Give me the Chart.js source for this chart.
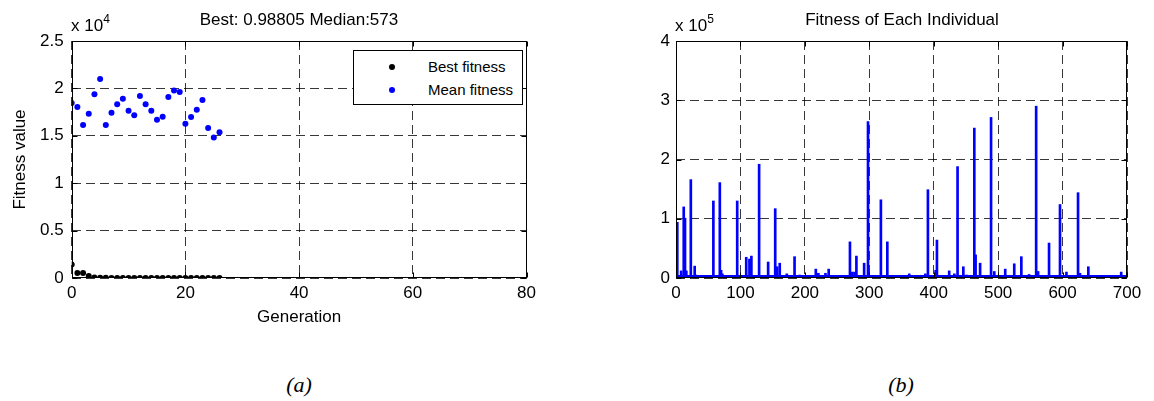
<!DOCTYPE html>
<html>
<head>
<meta charset="utf-8">
<script src="https://cdn.jsdelivr.net/npm/chart.js@4"></script>
<style>
  html, body { margin: 0; padding: 0; background: #fff; }
  body { width: 1154px; height: 401px; position: relative; overflow: hidden;
         font-family: "Liberation Sans", Arial, sans-serif; color: #000; }
  canvas { position: absolute; top: 0; }
  .txt { position: absolute; white-space: nowrap; font-size: 17px; line-height: 20px; }
  .ttl { text-align: center; }
  .expo sup { font-size: 12px; position: relative; top: -3px; vertical-align: top; line-height: 12px; }
  .legend { position: absolute; border: 1px solid #000; background: #fff; box-sizing: border-box; }
  .legend .item { position: absolute; left: 0; font-size: 15px; line-height: 18px; white-space: nowrap; }
  .legend .dot { position: absolute; width: 6px; height: 6px; border-radius: 50%; }
  .legend .lab { position: absolute; }
  .cap { position: absolute; font-family: "Liberation Serif", "DejaVu Serif", serif; font-style: italic;
         font-size: 22px; line-height: 24px; text-align: center; }
</style>
</head>
<body>
<canvas id="evo" width="570" height="330" style="left:0"></canvas>
<canvas id="ind" width="554" height="330" style="left:600px"></canvas>

<div class="txt ttl" style="left:99px;width:400px;top:10px;">Best: 0.98805 Median:573</div>
<div class="txt expo" style="left:71px;top:16px;">x 10<sup>4</sup></div>
<div class="txt ttl" style="left:702px;width:400px;top:10px;">Fitness of Each Individual</div>
<div class="txt expo" style="left:675px;top:16px;">x 10<sup>5</sup></div>

<div class="legend" style="left:353px;top:50px;width:170px;height:55px;">
  <div class="item" style="top:7px;width:168px;">
    <span class="dot" style="left:35px;top:6px;background:#000;"></span>
    <span class="lab" style="left:74px;">Best fitness</span>
  </div>
  <div class="item" style="top:30px;width:168px;">
    <span class="dot" style="left:35px;top:6px;background:#0000ff;"></span>
    <span class="lab" style="left:74px;">Mean fitness</span>
  </div>
</div>

<div class="cap" style="left:249px;width:100px;top:373px;">(a)</div>
<div class="cap" style="left:851px;width:100px;top:373px;">(b)</div>

<script>
// ---- GA progress per generation ----
const generations = [0, 1, 2, 3, 4, 5, 6, 7, 8, 9, 10, 11, 12, 13, 14, 15, 16, 17, 18, 19, 20, 21, 22, 23, 24, 25, 26];
const bestFitness = [1430, 520, 520, 200, 40, 20, 15, 12, 10, 8, 6, 5, 4, 4, 3, 3, 2, 2, 2, 1.5, 1.5, 1.2, 1.2, 1, 1, 1, 0.98805];
const meanFitness = [18470, 18050, 16130, 17320, 19370, 20980, 16130, 17420, 18330, 18920, 17630, 17180, 19200,
                     18330, 17630, 16690, 17000, 19090, 19790, 19620, 16270, 16970, 17740, 18780, 15820, 14810, 15370];

// ---- fitness of each individual in the final population ----
const populationSize = 700;
const notableIndex = [2, 8, 12, 14, 16, 23, 29, 31, 36, 40, 44, 50, 53, 58, 68, 70, 72, 80, 95, 97, 99,
                      109, 114, 117, 129, 143, 154, 157, 161, 172, 184, 189, 192, 212, 217, 221, 232, 237,
                      270, 273, 277, 280, 292, 298, 318, 328, 344, 355, 362, 374, 387, 391, 398, 403, 405,
                      424, 432, 437, 446, 451, 463, 465, 472, 489, 494, 511, 525, 536, 548, 559, 562, 579,
                      596, 606, 624, 627, 640, 657, 691];
const notableFitness = [94000, 12000, 120000, 101000, 12000, 166000, 20000, 5000, 2000, 3000, 2000, 3000, 2000,
                        130000, 161000, 13000, 7000, 2000, 130000, 4000, 2000,
                        35000, 32000, 37000, 192000, 27000, 117000, 19000, 25000, 7000, 36000, 3000, 5000,
                        3000, 15000, 8000, 8000, 15000,
                        61000, 10000, 10000, 37000, 25000, 264000, 132000, 61000, 3000, 2000, 7000, 3000,
                        7000, 149000, 3000, 13000, 64000,
                        12000, 7000, 188000, 19000, 5000, 253000, 39000, 25000, 271000, 11000, 15000, 24000,
                        36000, 6000, 290000, 11000, 59000,
                        124000, 10000, 144000, 8000, 19000, 3000, 10000];

// ---- axis ticks ----
const genTicks = [0, 20, 40, 60, 80];
const fitTicks = [0, 5000, 10000, 15000, 20000, 25000];
const indTicks = [0, 100, 200, 300, 400, 500, 600, 700];
const indFitTicks = [0, 100000, 200000, 300000, 400000];

Chart.defaults.font.family = '"Liberation Sans", Arial, sans-serif';
Chart.defaults.font.size = 17;
Chart.defaults.color = '#000';
Chart.defaults.animation = false;

const GRID = 'rgba(0,0,0,0.78)';
const DASH = [9, 5];

// solid axes box plus inward tick marks on all four sides
const framePlugin = {
  id: 'frame',
  afterDraw(chart) {
    const { ctx, chartArea: a, scales } = chart;
    const L = Math.round(a.left) + 0.5, R = Math.round(a.right) - 0.5;
    const T = Math.round(a.top) + 0.5, B = Math.round(a.bottom) - 0.5;
    ctx.save();
    ctx.strokeStyle = '#000';
    ctx.lineWidth = 1;
    ctx.setLineDash([]);
    ctx.strokeRect(L, T, R - L, B - T);
    const len = 5;
    ctx.beginPath();
    scales.x.ticks.forEach(t => {
      const p = Math.round(scales.x.getPixelForValue(t.value)) + 0.5;
      ctx.moveTo(p, B); ctx.lineTo(p, B - len);
      ctx.moveTo(p, T); ctx.lineTo(p, T + len);
    });
    scales.y.ticks.forEach(t => {
      const p = Math.round(scales.y.getPixelForValue(t.value)) + 0.5;
      ctx.moveTo(L, p); ctx.lineTo(L + len, p);
      ctx.moveTo(R, p); ctx.lineTo(R - len, p);
    });
    ctx.stroke();
    ctx.restore();
  }
};

function tickList(values) {
  return (scale) => { scale.ticks = values.map(v => ({ value: v })); };
}

// ---- (a) GA progress ----
new Chart(document.getElementById('evo'), {
  type: 'scatter',
  data: {
    datasets: [
      { label: 'Best fitness', data: generations.map((g, i) => ({ x: g, y: bestFitness[i] })),
        backgroundColor: '#000', borderWidth: 0, pointRadius: 3 },
      { label: 'Mean fitness', data: generations.map((g, i) => ({ x: g, y: meanFitness[i] })),
        backgroundColor: '#0000ff', borderWidth: 0, pointRadius: 3 }
    ]
  },
  options: {
    responsive: false,
    layout: { padding: { left: 10, top: 41, right: 43.5, bottom: 2 } },
    plugins: { legend: { display: false }, tooltip: { enabled: false } },
    scales: {
      x: {
        type: 'linear', min: 0, max: 80,
        afterBuildTicks: tickList(genTicks),
        afterFit: (s) => { s.height = 50; },
        grid: { color: GRID, lineWidth: 1, drawTicks: false },
        border: { display: false, dash: DASH },
        ticks: { padding: 5, maxRotation: 0, autoSkip: false },
        title: { display: true, text: 'Generation', padding: 0, font: { size: 17 } }
      },
      y: {
        type: 'linear', min: 0, max: 25000,
        afterBuildTicks: tickList(fitTicks),
        afterFit: (s) => { s.width = 61.7; },
        grid: { color: GRID, lineWidth: 1, drawTicks: false },
        border: { display: false, dash: DASH },
        ticks: { padding: 8, autoSkip: false, callback: (v) => String(v / 10000) },
        title: { display: true, text: 'Fitness value', padding: 0, font: { size: 17 } }
      }
    }
  },
  plugins: [framePlugin]
});

// ---- (b) fitness of each individual ----
const individualFitness = [];
for (let i = 1; i <= populationSize; i++) {
  const k = notableIndex.indexOf(i);
  individualFitness.push({ x: i, y: k >= 0 ? notableFitness[k] : 0 });
}

new Chart(document.getElementById('ind'), {
  type: 'bar',
  data: {
    datasets: [{
      label: 'Fitness',
      data: individualFitness,
      backgroundColor: '#0000ff',
      borderWidth: 0,
      barThickness: 2,
      minBarLength: 2.5
    }]
  },
  options: {
    responsive: false,
    layout: { padding: { left: 10, top: 41, right: 27, bottom: 2 } },
    plugins: { legend: { display: false }, tooltip: { enabled: false } },
    scales: {
      x: {
        type: 'linear', min: 0, max: 700, offset: false,
        afterBuildTicks: tickList(indTicks),
        afterFit: (s) => { s.height = 50; },
        grid: { color: GRID, lineWidth: 1, drawTicks: false, offset: false },
        border: { display: false, dash: DASH },
        ticks: { padding: 5, maxRotation: 0, autoSkip: false }
      },
      y: {
        type: 'linear', min: 0, max: 400000,
        afterBuildTicks: tickList(indFitTicks),
        afterFit: (s) => { s.width = 66; },
        grid: { color: GRID, lineWidth: 1, drawTicks: false },
        border: { display: false, dash: DASH },
        ticks: { padding: 6, autoSkip: false, callback: (v) => String(v / 100000) }
      }
    }
  },
  plugins: [framePlugin]
});
</script>
</body>
</html>
